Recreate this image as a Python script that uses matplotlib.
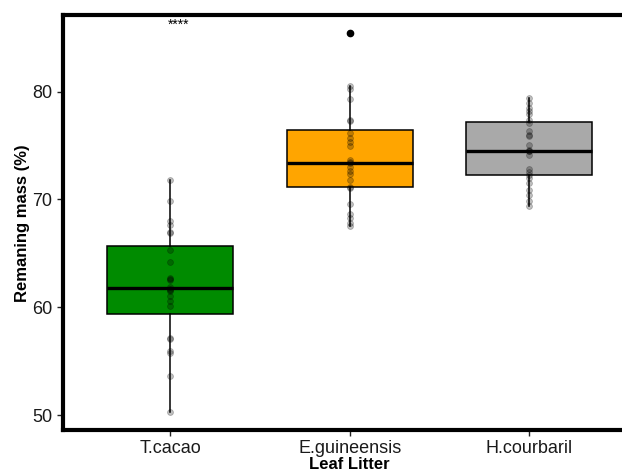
import numpy as np
import matplotlib
matplotlib.use("Agg")
import matplotlib.pyplot as plt

plt.rcParams["font.family"] = ["Liberation Sans", "DejaVu Sans"]

# data (remaining mass, %)
categories = ["T.cacao", "E.guineensis", "H.courbaril"]
t_cacao = [50.3, 53.6, 55.8, 56.0, 57.1, 57.2, 60.1, 60.6, 61.1, 61.5, 61.6, 61.7,
           61.85, 62.5, 62.6, 62.7, 64.2, 65.3, 66.9, 67.0, 67.6, 68.0, 69.9, 71.8]
e_guineensis = [67.56, 67.81, 68.27, 68.64, 69.6, 71.06, 71.15, 71.83, 72.39, 72.6,
                73.0, 73.38, 73.45, 73.69, 74.92, 75.33, 75.7, 76.2, 77.3, 77.4,
                79.35, 80.19, 80.5, 85.45]
h_courbaril = [69.4, 69.9, 70.4, 70.9, 71.5, 72.0, 72.3, 72.5, 72.8, 74.1, 74.5, 74.5,
               74.55, 75.0, 75.9, 76.0, 76.3, 77.1, 77.4, 77.9, 78.2, 78.5, 78.9, 79.4]
box_colors = ["#008B00", "#FFA500", "#A9A9A9"]
yticks = [50, 60, 70, 80]
signif_label = "****"

data = [t_cacao, e_guineensis, h_courbaril]
pos = np.arange(1, len(categories) + 1)

fig = plt.figure(figsize=(6.22, 4.73), dpi=100)
ax = fig.add_axes([0.1005, 0.0902, 0.9234, 0.8774])

bp = ax.boxplot(data, positions=pos, widths=0.70, patch_artist=True,
                whis=1.5, showcaps=False,
                medianprops=dict(color="black", linewidth=2.4),
                whiskerprops=dict(color="black", linewidth=1.1),
                boxprops=dict(edgecolor="black", linewidth=1.1),
                flierprops=dict(marker="o", markerfacecolor="black",
                                markeredgecolor="black", markersize=4.5))
for patch, c in zip(bp["boxes"], box_colors):
    patch.set_facecolor(c)

for p, vals in zip(pos, data):
    ax.scatter(np.full(len(vals), p), vals, s=18, color="black", alpha=0.25,
               edgecolors="black", linewidths=0.6, zorder=3)

ax.text(1.045, 86.2, signif_label, ha="center", va="center", fontsize=10)

ax.set_xlim(0.4, 3.6)
ax.set_ylim(48.61, 87.06)
ax.set_xticks(pos)
ax.set_xticklabels(categories)
ax.set_yticks(yticks)
ax.tick_params(axis="both", labelsize=13, colors="#222222", length=4, width=1,
               labelcolor="#1a1a1a")
ax.tick_params(axis="x", pad=3)

ax.set_xlabel("Leaf Litter", fontsize=12, fontweight="bold", labelpad=0)
ax.set_ylabel("Remaning mass (%)", fontsize=12, fontweight="bold", labelpad=1)

for side in ["left", "bottom", "top"]:
    ax.spines[side].set_linewidth(3)
    ax.spines[side].set_color("black")
ax.spines["right"].set_visible(False)

fig.savefig("out.png", dpi=100)
